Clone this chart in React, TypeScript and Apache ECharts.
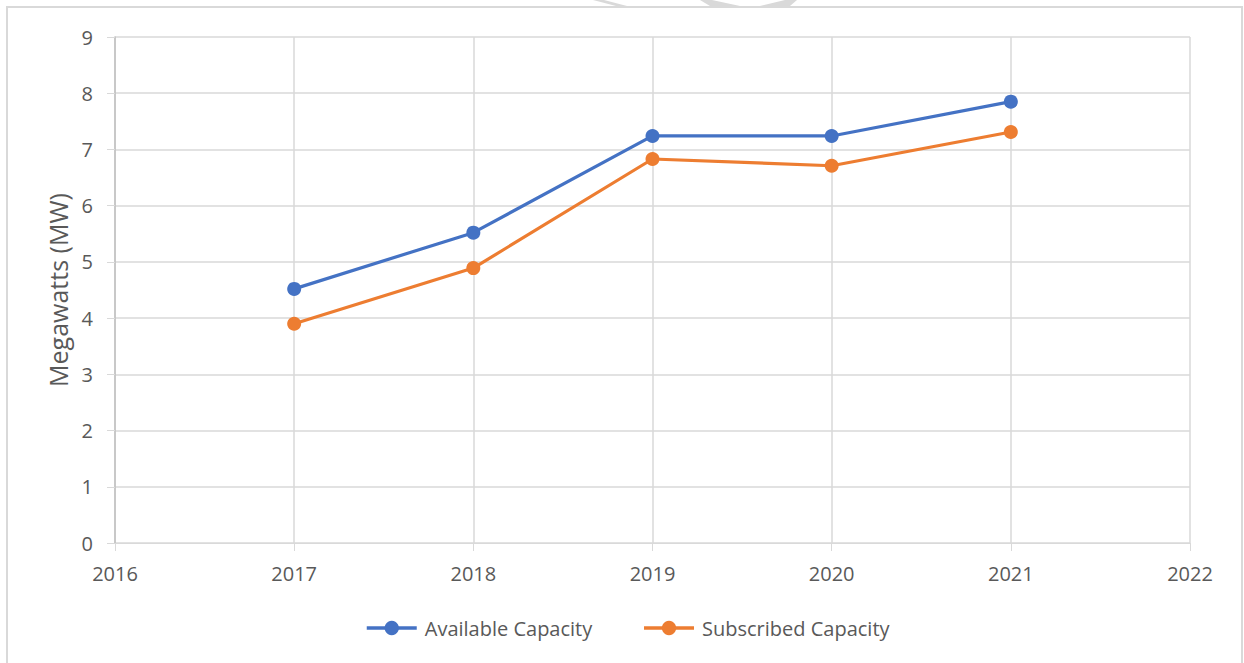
import React, { useEffect, useRef } from "react";
import * as echarts from "echarts";

const years = [2017, 2018, 2019, 2020, 2021];
const availableCapacity = [4.52, 5.52, 7.24, 7.24, 7.85];
const subscribedCapacity = [3.9, 4.89, 6.83, 6.71, 7.31];
const seriesNames = ["Available Capacity", "Subscribed Capacity"];
const yAxisTitle = "Megawatts (MW)";

const FONT = "'Open Sans', 'Liberation Sans', sans-serif";
const TEXT = "#595959";
const GRID = "#d9d9d9";

export default function App() {
  const ref = useRef<HTMLDivElement>(null);
  useEffect(() => {
    if (!ref.current) return;
    const chart = echarts.init(ref.current, undefined, { renderer: "svg" });
    const toPairs = (vals: number[]) => years.map((y, i) => [y, vals[i]]);
    chart.setOption({
      animation: false,
      textStyle: { fontFamily: FONT },
      graphic: [
        {
          type: "rect",
          shape: { x: 7, y: 7, width: 1235, height: 720 },
          style: { fill: "none", stroke: GRID, lineWidth: 2 },
          silent: true,
        },
        {
          type: "polygon",
          shape: { points: [[593, 0], [604, 0], [627, 6], [616, 6]] },
          style: { fill: GRID },
          silent: true,
        },
        {
          type: "polygon",
          shape: { points: [[700, 0], [712, 0], [740, 6], [760, 6], [785, 0], [797, 0], [790, 6], [710, 6]] },
          style: { fill: GRID },
          silent: true,
        },
      ],
      grid: { left: 115, right: 54, top: 37, bottom: 120, containLabel: false },
      xAxis: {
        type: "value",
        min: 2016,
        max: 2022,
        interval: 1,
        axisLine: { show: true, onZero: false, lineStyle: { color: GRID, width: 1 } },
        axisTick: { show: true, inside: false, length: 8, lineStyle: { color: GRID } },
        splitLine: { show: true, lineStyle: { color: GRID, width: 1.5 } },
        axisLabel: {
          color: TEXT,
          fontSize: 20,
          fontFamily: FONT,
          margin: 20,
          formatter: (v: number) => String(v),
        },
      },
      yAxis: {
        type: "value",
        min: 0,
        max: 9,
        interval: 1,
        name: yAxisTitle,
        nameLocation: "middle",
        nameRotate: 90,
        nameGap: 43,
        nameTextStyle: { color: TEXT, fontSize: 25, fontFamily: FONT },
        axisLine: { show: true, lineStyle: { color: "#bfbfbf", width: 1.5 } },
        axisTick: { show: true, inside: false, length: 8, lineStyle: { color: GRID } },
        splitLine: { show: true, lineStyle: { color: GRID, width: 1.5 } },
        axisLabel: { color: TEXT, fontSize: 20, fontFamily: FONT, margin: 22 },
      },
      legend: {
        bottom: 20,
        left: 360,
        itemWidth: 50,
        itemHeight: 18,
        itemGap: 50,
        lineStyle: { width: 3.5 },
        textStyle: { color: TEXT, fontSize: 20, fontFamily: FONT, padding: [0, 0, 0, 3] },
        data: seriesNames,
      },
      series: [
        {
          name: seriesNames[0],
          type: "line",
          data: toPairs(availableCapacity),
          symbol: "circle",
          symbolSize: 14,
          lineStyle: { color: "#4472C4", width: 3.2 },
          itemStyle: { color: "#4472C4" },
        },
        {
          name: seriesNames[1],
          type: "line",
          data: toPairs(subscribedCapacity),
          symbol: "circle",
          symbolSize: 14,
          lineStyle: { color: "#ED7D31", width: 3.2 },
          itemStyle: { color: "#ED7D31" },
        },
      ],
    });
    return () => chart.dispose();
  }, []);
  return (
    <div
      ref={ref}
      style={{ position: "absolute", left: 0, top: 0, width: 1244, height: 663, background: "#fff" }}
    />
  );
}
